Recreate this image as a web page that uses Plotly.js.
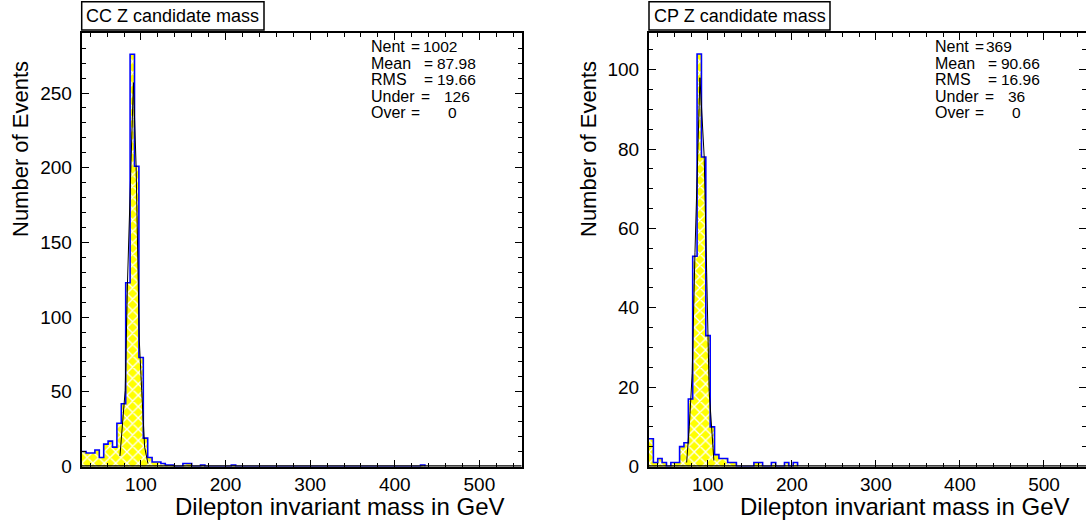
<!DOCTYPE html>
<html><head><meta charset="utf-8">
<script src="https://cdn.plot.ly/plotly-3.0.1.min.js"></script>
<style>html,body{margin:0;padding:0;background:#fff}#chart{width:1086px;height:523px}</style>
</head><body><div id="chart"></div>
<script>
// Histogram binning (100 bins from 30 to 550 GeV)
const binLow = 30, binWidth = 5.2, binHigh = 550;

// CC panel bin contents (bin 0 starts at 30 GeV)
const countsCC = [10,9,9,11,6,15,17,13,29,42,123,276,201,73,19,6,3,3,2,1,
  1,0,0,2,2,0,0,1,0,0,0,0,0,0,1,0,0,0,0,0,
  0,0,0,0,0,0,0,0,0,0,0,0,0,0,0,0,0,0,0,0,
  0,0,0,0,0,0,0,0,0,0,0,0,0,0,0,0,0,1];
// CP panel bin contents
const countsCP = [7,1,2,1,0,1,1,5,6,17,53,104,78,33,10,3,2,2,1,1,
  0,0,0,0,1,1,0,0,1,0,0,1,0,1];

// Fit curves
const fitCCx = [75.2, 81.4, 84.1, 91.1, 94.3, 98.1, 100.9, 104.4, 108.3];
const fitCCy = [7, 51, 123, 257, 201, 84, 51, 13, 2];
const fitCPx = [74.8, 77.9, 81.4, 84.7, 90.6, 95.7, 98.6, 101.6, 107.2];
const fitCPy = [1, 10, 23.5, 54, 98, 78, 49, 19, 1.5];

// Titles and statistics
const panelTitles = ["CC Z candidate mass", "CP Z candidate mass"];
const statLabels = ["Nent", "Mean", "RMS", "Under", "Over"];
const statsCC = ["1002", "87.98", "19.66", "126", "0"];
const statsCP = ["369", "90.66", "16.96", "36", "0"];
const yMaxCC = 290, yMaxCP = 109.2;

const W = 1086, H = 523;
const px = v => v / W, py = v => 1 - v / H;
const FONT = 'Liberation Sans, Arial, Helvetica, sans-serif';

function xax(d0, d1, anchor) {
  return {domain:[px(d0), Math.min(1, px(d1))], range:[binLow, binHigh], anchor:anchor,
    tick0:0, dtick:100, ticks:'inside', ticklen:7, tickwidth:1, tickcolor:'#000',
    showline:true, linewidth:2, linecolor:'#000', mirror:'allticks',
    showgrid:false, zeroline:false, layer:'above traces',
    minor:{tick0:0, dtick:20, ticks:'inside', ticklen:4, tickwidth:1, tickcolor:'#000', showgrid:false},
    tickfont:{family:FONT, size:19, color:'#000'}, ticklabelstandoff:0};
}
function yax(ymax, dt, mdt, anchor) {
  return {domain:[py(466.5), py(33.3)], range:[0, ymax], anchor:anchor,
    tick0:0, dtick:dt, ticks:'inside', ticklen:7, tickwidth:1, tickcolor:'#000',
    showline:true, linewidth:2, linecolor:'#000', mirror:'allticks',
    showgrid:false, zeroline:false, layer:'above traces',
    minor:{tick0:0, dtick:mdt, ticks:'inside', ticklen:4, tickwidth:1, tickcolor:'#000', showgrid:false},
    tickfont:{family:FONT, size:19, color:'#000'}, ticklabelstandoff:4};
}

function histTraces(counts, fx, fy, xa, ya) {
  return [
    {type:'bar', x0:binLow + binWidth/2, dx:binWidth, y:counts, width:binWidth,
     xaxis:xa, yaxis:ya, hoverinfo:'skip',
     marker:{color:'#ffff00', line:{width:0},
       pattern:{shape:'x', fgcolor:'#ffffff', bgcolor:'#ffff00', size:8, solidity:0.3}}},
    {type:'scatter', mode:'lines', x0:binLow, dx:binWidth, y:counts.concat([0]),
     xaxis:xa, yaxis:ya, line:{shape:'hv', color:'#0000ff', width:1.6}, hoverinfo:'skip'},
    {type:'scatter', mode:'lines', x:fx, y:fy, xaxis:xa, yaxis:ya,
     line:{color:'#000', width:1}, hoverinfo:'skip'}
  ];
}

const data = histTraces(countsCC, fitCCx, fitCCy, 'x', 'y')
  .concat(histTraces(countsCP, fitCPx, fitCPy, 'x2', 'y2'));

const annotations = [], shapes = [];
function ann(text, x, y, size, opts) {
  annotations.push(Object.assign({text:text, x:px(x), y:py(y), xref:'paper', yref:'paper',
    showarrow:false, font:{family:FONT, size:size, color:'#000'}, xanchor:'left', yanchor:'middle',
    borderpad:0}, opts||{}));
}
// baseline covers (the black frame hides empty bins drawn at zero)
[['x','y'],['x2','y2']].forEach(([xa, ya]) => {
  shapes.push({type:'line', xref:xa, yref:ya, x0:binLow, x1:binHigh, y0:0, y1:0,
    line:{color:'#000', width:2.5}, layer:'above'});
});
// panel title boxes
[[81.7, 264], [649, 830]].forEach((b, i) => {
  shapes.push({type:'rect', xref:'paper', yref:'paper', x0:px(b[0]), x1:px(b[1]), y0:py(30), y1:py(1.7),
    line:{color:'#000', width:1.5}, fillcolor:'#fff'});
  ann(panelTitles[i], (b[0]+b[1])/2, 16, 18, {xanchor:'center'});
});
// stats
const lineY = [46.5, 63, 79.5, 96.3, 113];
const eqX = [410, 423, 423, 420, 410];
const valX = [421.7, 436, 436, 443, 447];
[[statsCC, 0], [statsCP, 563.5]].forEach(([vals, off]) => {
  statLabels.forEach((lab, i) => {
    ann(lab, 370 + off, lineY[i], 16);
    ann('=', eqX[i] + off, lineY[i], 15.5);
    ann(vals[i], valX[i] + off, lineY[i], 15.5);
  });
});
// axis titles
ann('Number of Events', 20, 149, 22, {xanchor:'center', textangle:-90});
ann('Number of Events', 588, 149, 22, {xanchor:'center', textangle:-90});
ann('Dilepton invariant mass in GeV', 505, 506.5, 24, {xanchor:'right'});
ann('Dilepton invariant mass in GeV', 1070, 506.5, 24, {xanchor:'right'});

const layout = {width:W, height:H, margin:{l:0, r:0, t:0, b:0},
  paper_bgcolor:'#fff', plot_bgcolor:'#fff', showlegend:false,
  barmode:'overlay', bargap:0,
  xaxis:xax(81.7, 521.7, 'y'), yaxis:yax(yMaxCC, 50, 10, 'x'),
  xaxis2:xax(649, 1086, 'y2'), yaxis2:yax(yMaxCP, 20, 5, 'x2'),
  annotations:annotations, shapes:shapes};

Plotly.newPlot('chart', data, layout, {staticPlot:true});
</script></body></html>
